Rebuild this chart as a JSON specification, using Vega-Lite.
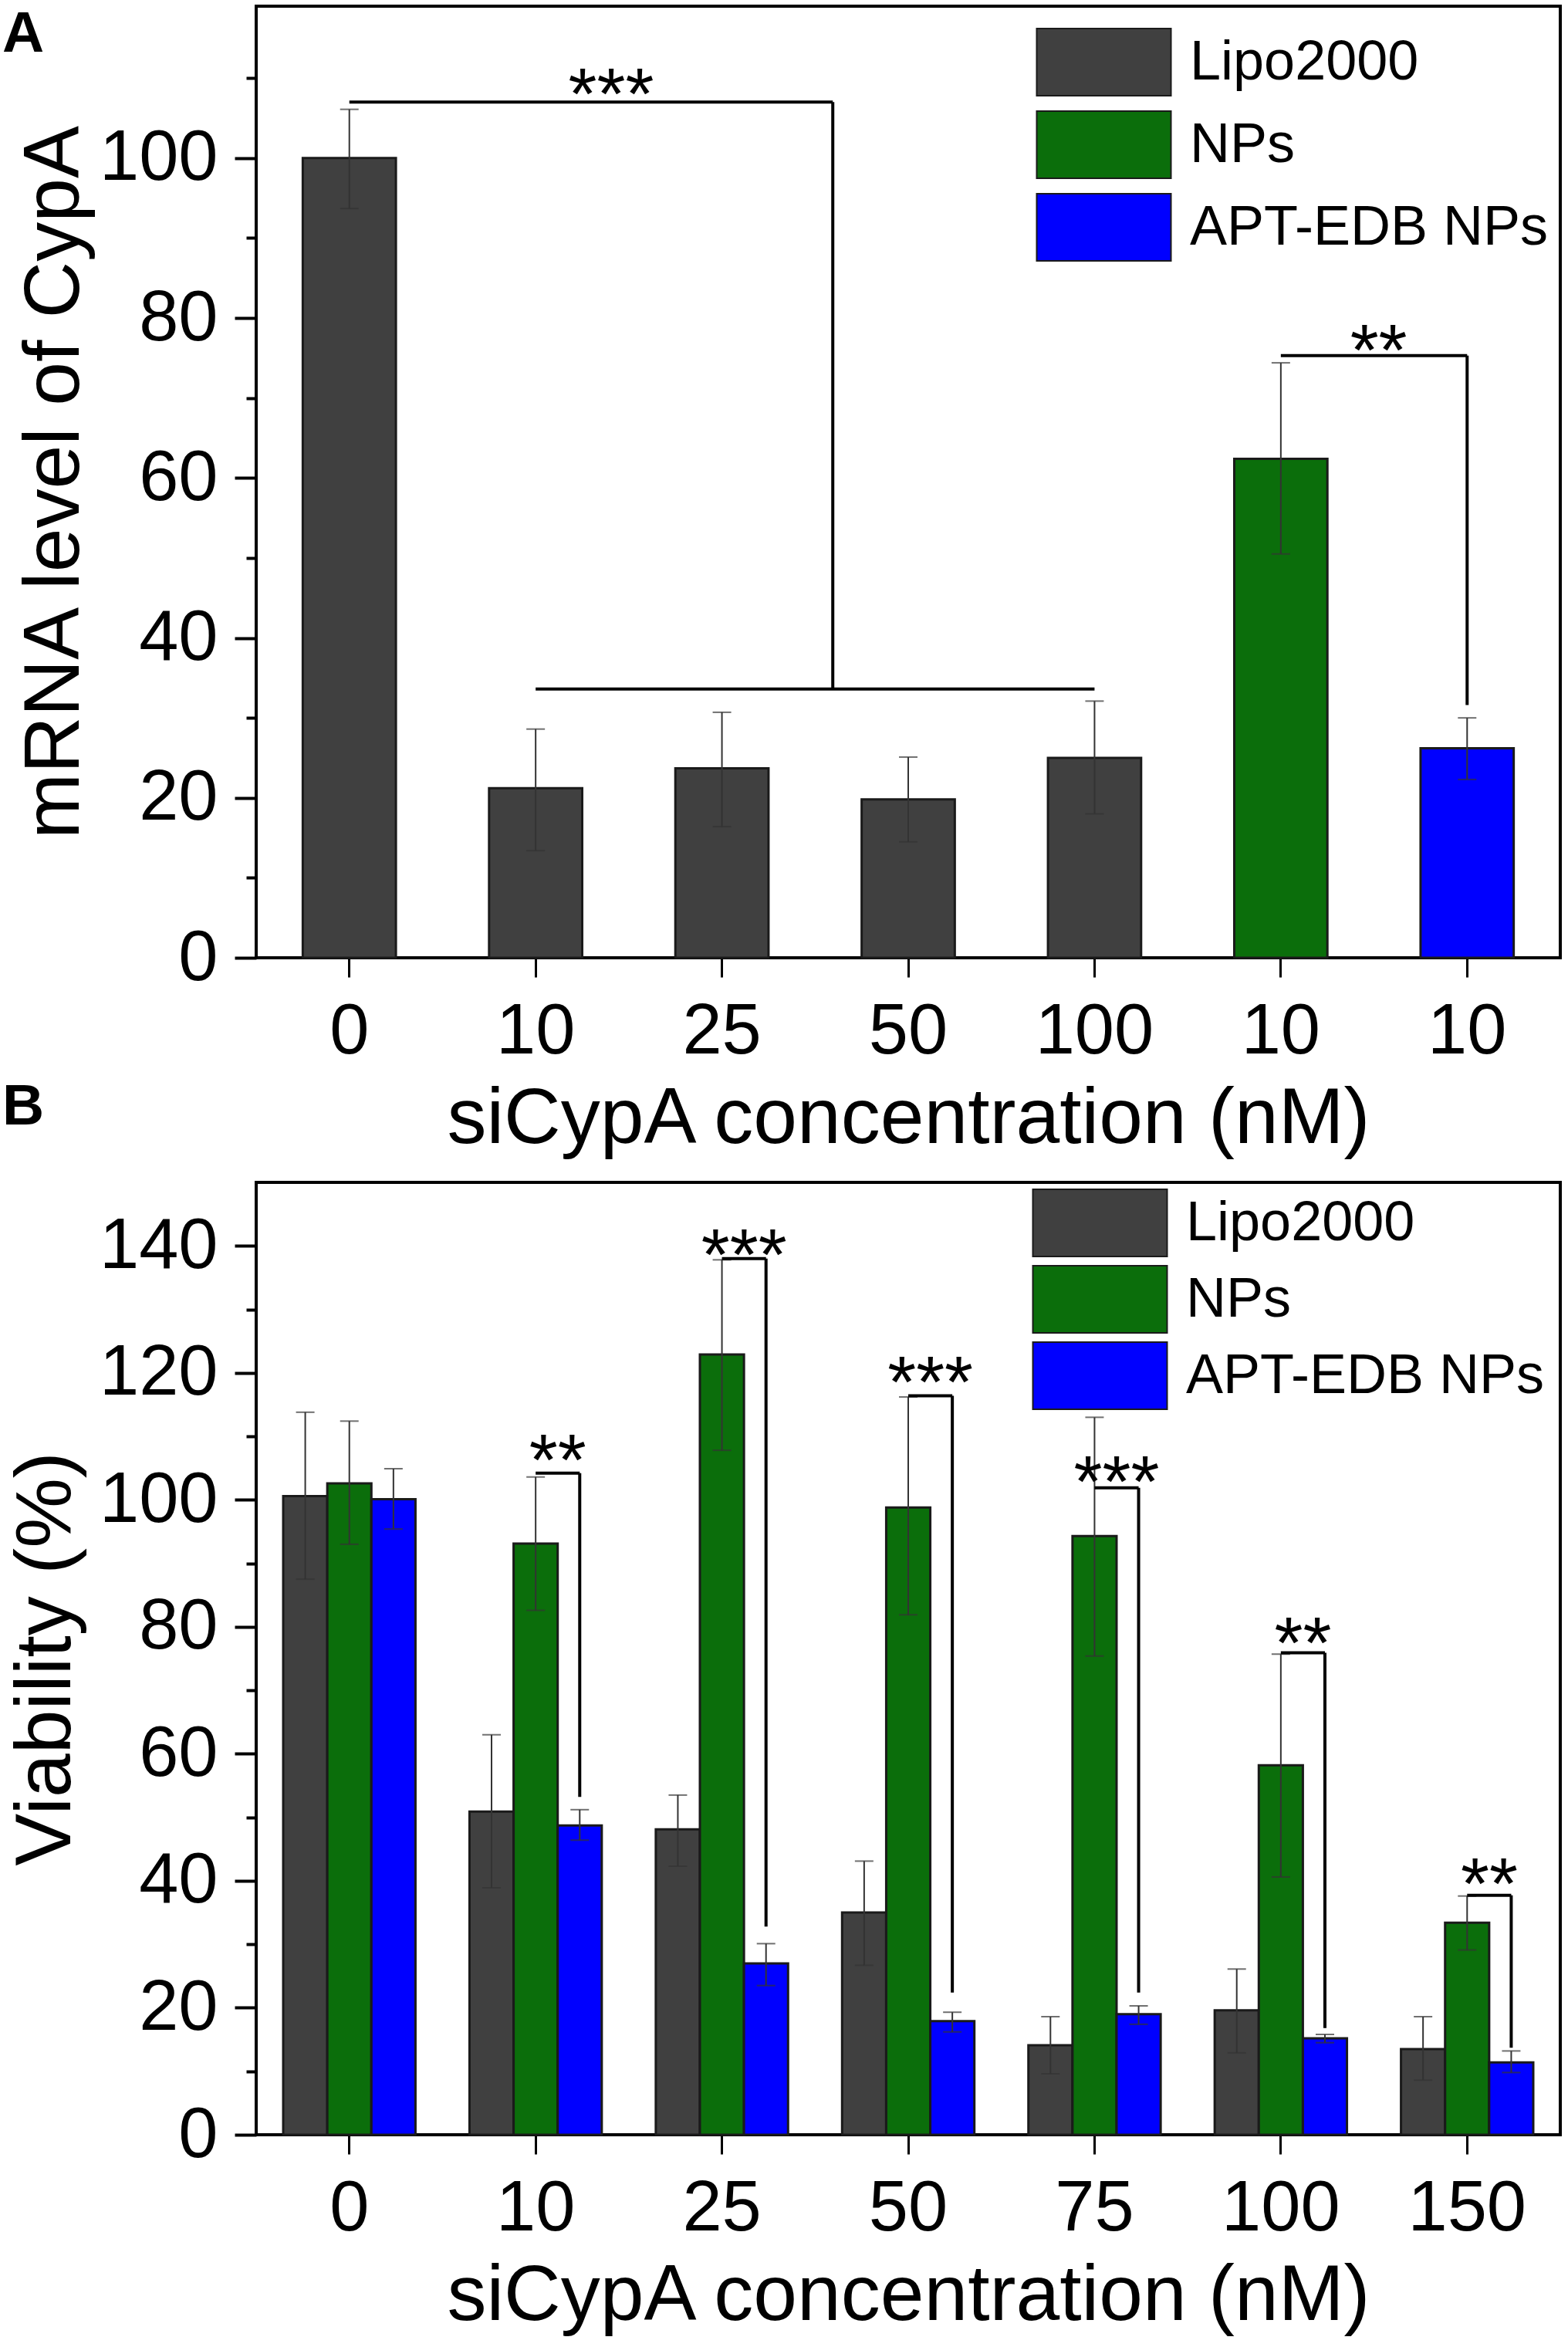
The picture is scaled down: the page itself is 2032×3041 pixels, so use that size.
{
  "$schema": "https://vega.github.io/schema/vega-lite/v6.json",
  "background": "white",
  "padding": {"left": 1, "top": 6, "right": 10, "bottom": 0},
  "title": {"text": "A", "orient": "top", "anchor": "start", "frame": "bounds", "baseline": "top", "offset": -77, "fontSize": 75, "fontWeight": "bold", "color": "black", "dx": 2},
  "spacing": 28,
  "resolve": {"scale": {"color": "independent"}, "legend": {"color": "independent"}},
  "datasets": {
    "mrna": [
      {"conc": "0", "series": "Lipo2000", "v": 100, "lo": 93.7, "hi": 106.1},
      {"conc": "10", "series": "Lipo2000", "v": 21.2, "lo": 13.4, "hi": 28.6},
      {"conc": "25", "series": "Lipo2000", "v": 23.7, "lo": 16.4, "hi": 30.7},
      {"conc": "50", "series": "Lipo2000", "v": 19.8, "lo": 14.5, "hi": 25.1},
      {"conc": "100", "series": "Lipo2000", "v": 25.0, "lo": 18.0, "hi": 32.1},
      {"conc": "10 NPs", "series": "NPs", "v": 62.4, "lo": 50.5, "hi": 74.4},
      {"conc": "10 APT", "series": "APT-EDB NPs", "v": 26.2, "lo": 22.3, "hi": 30.0}
    ],
    "viability": [
      {"conc": "0", "series": "Lipo2000", "v": 100.6, "lo": 87.5, "hi": 113.8},
      {"conc": "0", "series": "NPs", "v": 102.6, "lo": 93.0, "hi": 112.4},
      {"conc": "0", "series": "APT-EDB NPs", "v": 100.1, "lo": 95.4, "hi": 104.9},
      {"conc": "10", "series": "Lipo2000", "v": 50.9, "lo": 38.9, "hi": 63.0},
      {"conc": "10", "series": "NPs", "v": 93.1, "lo": 82.6, "hi": 103.6},
      {"conc": "10", "series": "APT-EDB NPs", "v": 48.7, "lo": 46.4, "hi": 51.2},
      {"conc": "25", "series": "Lipo2000", "v": 48.1, "lo": 42.3, "hi": 53.5},
      {"conc": "25", "series": "NPs", "v": 122.9, "lo": 107.8, "hi": 137.8},
      {"conc": "25", "series": "APT-EDB NPs", "v": 27.0, "lo": 23.5, "hi": 30.1},
      {"conc": "50", "series": "Lipo2000", "v": 35.0, "lo": 26.7, "hi": 43.1},
      {"conc": "50", "series": "NPs", "v": 98.8, "lo": 81.9, "hi": 116.2},
      {"conc": "50", "series": "APT-EDB NPs", "v": 17.9, "lo": 16.2, "hi": 19.3},
      {"conc": "75", "series": "Lipo2000", "v": 14.1, "lo": 9.6, "hi": 18.6},
      {"conc": "75", "series": "NPs", "v": 94.3, "lo": 75.4, "hi": 113.0},
      {"conc": "75", "series": "APT-EDB NPs", "v": 19.0, "lo": 17.4, "hi": 20.3},
      {"conc": "100", "series": "Lipo2000", "v": 19.6, "lo": 12.9, "hi": 26.1},
      {"conc": "100", "series": "NPs", "v": 58.2, "lo": 40.6, "hi": 75.7},
      {"conc": "100", "series": "APT-EDB NPs", "v": 15.2, "lo": 14.5, "hi": 15.8},
      {"conc": "150", "series": "Lipo2000", "v": 13.5, "lo": 8.6, "hi": 18.6},
      {"conc": "150", "series": "NPs", "v": 33.4, "lo": 29.1, "hi": 37.6},
      {"conc": "150", "series": "APT-EDB NPs", "v": 11.4, "lo": 9.8, "hi": 13.2}
    ],
    "viabilitySig": [
      {"conc": "10", "h": 104.2, "v": 53.2, "t": 102.3, "s": "**"},
      {"conc": "25", "h": 138.0, "v": 32.8, "t": 134.7, "s": "***"},
      {"conc": "50", "h": 116.4, "v": 22.4, "t": 114.6, "s": "***"},
      {"conc": "75", "h": 101.9, "v": 22.4, "t": 99.0, "s": "***"},
      {"conc": "100", "h": 75.9, "v": 16.8, "t": 73.6, "s": "**"},
      {"conc": "150", "h": 37.7, "v": 13.7, "t": 35.6, "s": "**"}
    ]
  },
  "config": {
    "font": "Liberation Sans",
    "view": {"stroke": "black", "strokeWidth": 4},
    "axis": {
      "domain": false,
      "grid": false,
      "ticks": true,
      "tickColor": "black",
      "labelColor": "black",
      "labelFont": "Liberation Sans",
      "labelFontSize": 92,
      "labelOverlap": false,
      "titleFont": "Liberation Sans",
      "titleFontSize": 102,
      "titleFontWeight": "normal",
      "titleColor": "black"
    },
    "axisX": {"tickSize": 25, "tickWidth": 3, "labelPadding": 25, "labelAngle": 0, "titlePadding": 17},
    "axisY": {"tickSize": 28, "tickWidth": 4, "labelPadding": 22},
    "legend": {
      "title": null,
      "padding": 0,
      "symbolType": "M-2,-1H2V1H-2Z",
      "symbolSize": 7569,
      "symbolStrokeColor": "#1a1a1a",
      "symbolStrokeWidth": 2,
      "symbolOpacity": 1,
      "labelFont": "Liberation Sans",
      "labelFontSize": 72,
      "labelColor": "black",
      "labelOffset": 67,
      "labelLimit": 800
    }
  },
  "vconcat": [
    {
      "width": 1690,
      "height": 1233,
      "title": {"text": "B", "orient": "bottom", "anchor": "start", "frame": "bounds", "baseline": "top", "offset": -102, "fontSize": 75, "fontWeight": "bold", "color": "black", "dx": -16},
      "resolve": {"axis": {"y": "independent"}},
      "layer": [
        {
          "data": {"name": "mrna"},
          "mark": {"type": "bar", "stroke": "#1a1a1a", "strokeWidth": 3},
          "encoding": {
            "x": {
              "field": "conc", "type": "nominal",
              "scale": {"domain": ["0", "10", "25", "50", "100", "10 NPs", "10 APT"], "paddingInner": 0.5, "paddingOuter": 0.25},
              "axis": {"title": "siCypA concentration (nM)", "labelExpr": "split(datum.label, ' ')[0]"}
            },
            "y": {
              "field": "v", "type": "quantitative",
              "scale": {"domain": [0, 119], "nice": false},
              "axis": {"title": "mRNA level of CypA", "orient": "left", "values": [0, 20, 40, 60, 80, 100], "titlePadding": 10}
            },
            "color": {
              "field": "series", "type": "nominal",
              "scale": {"domain": ["Lipo2000", "NPs", "APT-EDB NPs"], "range": ["#404040", "#0b6e0b", "#0000ff"]},
              "legend": {"orient": "none", "legendX": 1054, "legendY": 28, "rowPadding": 12}
            }
          }
        },
        {
          "data": {"name": "mrna"},
          "mark": {"type": "rule", "color": "#333333", "strokeWidth": 2},
          "encoding": {
            "x": {"field": "conc", "type": "nominal"},
            "y": {"field": "lo", "type": "quantitative", "axis": {"orient": "left", "values": [10, 30, 50, 70, 90, 110], "labels": false, "tickSize": 13, "title": null}},
            "y2": {"field": "hi"}
          }
        },
        {
          "data": {"name": "mrna"},
          "mark": {"type": "tick", "color": "#333333", "thickness": 2, "size": 24},
          "encoding": {
            "x": {"field": "conc", "type": "nominal"},
            "y": {"field": "hi", "type": "quantitative", "axis": null}
          }
        },
        {
          "data": {"name": "mrna"},
          "mark": {"type": "tick", "color": "#333333", "thickness": 2, "size": 24},
          "encoding": {
            "x": {"field": "conc", "type": "nominal"},
            "y": {"field": "lo", "type": "quantitative", "axis": null}
          }
        },
        {
          "data": {"values": [{"a": "0", "b": "25", "h": 107.0}]},
          "mark": {"type": "rule", "color": "black", "strokeWidth": 4},
          "encoding": {
            "x": {"field": "a", "type": "nominal", "bandPosition": 0.5},
            "x2": {"field": "b", "bandPosition": 1.69},
            "y": {"field": "h", "type": "quantitative", "axis": null}
          }
        },
        {
          "data": {"values": [{"a": "25", "h": 107.0, "v": 33.6}]},
          "mark": {"type": "rule", "color": "black", "strokeWidth": 4},
          "encoding": {
            "x": {"field": "a", "type": "nominal", "bandPosition": 1.69},
            "y": {"field": "h", "type": "quantitative", "axis": null},
            "y2": {"field": "v"}
          }
        },
        {
          "data": {"values": [{"a": "10", "b": "100", "h": 33.6}, {"a": "10 NPs", "b": "10 APT", "h": 75.3}]},
          "mark": {"type": "rule", "color": "black", "strokeWidth": 4},
          "encoding": {
            "x": {"field": "a", "type": "nominal", "bandPosition": 0.5},
            "x2": {"field": "b", "bandPosition": 0.5},
            "y": {"field": "h", "type": "quantitative", "axis": null}
          }
        },
        {
          "data": {"values": [{"a": "10 APT", "h": 75.3, "v": 31.6}]},
          "mark": {"type": "rule", "color": "black", "strokeWidth": 4},
          "encoding": {
            "x": {"field": "a", "type": "nominal", "bandPosition": 0.5},
            "y": {"field": "h", "type": "quantitative", "axis": null},
            "y2": {"field": "v"}
          }
        },
        {
          "data": {"values": [{"a": "10", "t": 104.9, "s": "***"}]},
          "mark": {"type": "text", "fontSize": 95, "align": "center", "baseline": "alphabetic", "color": "black"},
          "encoding": {
            "x": {"field": "a", "type": "nominal", "bandPosition": 1.31},
            "y": {"field": "t", "type": "quantitative", "axis": null},
            "text": {"field": "s"}
          }
        },
        {
          "data": {"values": [{"a": "10 NPs", "t": 72.9, "s": "**"}]},
          "mark": {"type": "text", "fontSize": 95, "align": "center", "baseline": "alphabetic", "color": "black"},
          "encoding": {
            "x": {"field": "a", "type": "nominal", "bandPosition": 1.55},
            "y": {"field": "t", "type": "quantitative", "axis": null},
            "text": {"field": "s"}
          }
        }
      ]
    },
    {
      "width": 1690,
      "height": 1234,
      "resolve": {"axis": {"y": "independent"}},
      "layer": [
        {
          "data": {"name": "viability"},
          "mark": {"type": "bar", "stroke": "#1a1a1a", "strokeWidth": 3},
          "encoding": {
            "x": {
              "field": "conc", "type": "nominal",
              "scale": {"domain": ["0", "10", "25", "50", "75", "100", "150"], "paddingInner": 0.29, "paddingOuter": 0.145},
              "axis": {"title": "siCypA concentration (nM)"}
            },
            "xOffset": {"field": "series", "type": "nominal", "scale": {"domain": ["Lipo2000", "NPs", "APT-EDB NPs"], "paddingInner": 0, "paddingOuter": 0}},
            "y": {
              "field": "v", "type": "quantitative",
              "scale": {"domain": [0, 150], "nice": false},
              "axis": {"title": "Viability (%)", "orient": "left", "values": [0, 20, 40, 60, 80, 100, 120, 140], "titlePadding": 21}
            },
            "color": {
              "field": "series", "type": "nominal",
              "scale": {"domain": ["Lipo2000", "NPs", "APT-EDB NPs"], "range": ["#404040", "#0b6e0b", "#0000ff"]},
              "legend": {"orient": "none", "legendX": 1049, "legendY": 8, "rowPadding": 4}
            }
          }
        },
        {
          "data": {"name": "viability"},
          "mark": {"type": "rule", "color": "#333333", "strokeWidth": 2},
          "encoding": {
            "x": {"field": "conc", "type": "nominal"},
            "xOffset": {"field": "series", "type": "nominal"},
            "y": {"field": "lo", "type": "quantitative", "axis": {"orient": "left", "values": [10, 30, 50, 70, 90, 110, 130], "labels": false, "tickSize": 13, "title": null}},
            "y2": {"field": "hi"}
          }
        },
        {
          "data": {"name": "viability"},
          "mark": {"type": "tick", "color": "#333333", "thickness": 2, "size": 24},
          "encoding": {
            "x": {"field": "conc", "type": "nominal"},
            "xOffset": {"field": "series", "type": "nominal"},
            "y": {"field": "hi", "type": "quantitative", "axis": null}
          }
        },
        {
          "data": {"name": "viability"},
          "mark": {"type": "tick", "color": "#333333", "thickness": 2, "size": 24},
          "encoding": {
            "x": {"field": "conc", "type": "nominal"},
            "xOffset": {"field": "series", "type": "nominal"},
            "y": {"field": "lo", "type": "quantitative", "axis": null}
          }
        },
        {
          "data": {"name": "viabilitySig"},
          "mark": {"type": "rule", "color": "black", "strokeWidth": 4},
          "encoding": {
            "x": {"field": "conc", "type": "nominal", "bandPosition": 0.5},
            "x2": {"field": "conc", "bandPosition": 0.8333},
            "y": {"field": "h", "type": "quantitative", "axis": null}
          }
        },
        {
          "data": {"name": "viabilitySig"},
          "mark": {"type": "rule", "color": "black", "strokeWidth": 4},
          "encoding": {
            "x": {"field": "conc", "type": "nominal", "bandPosition": 0.8333},
            "y": {"field": "h", "type": "quantitative", "axis": null},
            "y2": {"field": "v"}
          }
        },
        {
          "data": {"name": "viabilitySig"},
          "mark": {"type": "text", "fontSize": 95, "align": "center", "baseline": "alphabetic", "color": "black"},
          "encoding": {
            "x": {"field": "conc", "type": "nominal", "bandPosition": 0.667},
            "y": {"field": "t", "type": "quantitative", "axis": null},
            "text": {"field": "s"}
          }
        }
      ]
    }
  ]
}
